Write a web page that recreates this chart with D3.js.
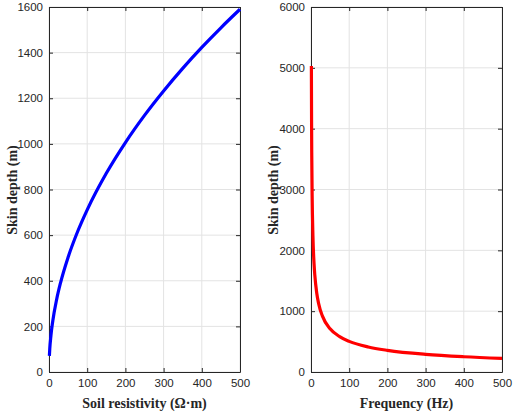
<!DOCTYPE html>
<html>
<head>
<meta charset="utf-8">
<script src="https://cdn.jsdelivr.net/npm/d3@7"></script>
<style>
body { margin: 0; background: #fff; }
.tick text { font-family: "Liberation Sans", Arial, sans-serif; font-size: 11.5px; fill: #262626; }
.lbl { font-family: "Liberation Serif", "Times New Roman", serif; font-size: 14px; font-weight: bold; fill: #262626; }
</style>
</head>
<body>
<script>
// soil resistivity vs skin depth (left panel)
var resistivity = [1, 2, 5, 10, 20, 30, 50, 75, 100, 150, 200, 250, 300, 350, 400, 450, 500];
var depthByRes = [71, 101, 159, 225, 318, 390, 503, 616, 711, 871, 1006, 1125, 1232, 1331, 1423, 1509, 1590];

// frequency vs skin depth (right panel)
var frequency = [1, 1.5, 2, 3, 5, 8, 10, 15, 20, 30, 50, 75, 100, 150, 200, 300, 400, 500];
var depthByFreq = [5030, 4107, 3557, 2904, 2249, 1778, 1591, 1299, 1125, 918, 711, 581, 503, 411, 356, 290, 251, 225];

var xTicks = [0, 100, 200, 300, 400, 500];
var leftYTicks = [0, 200, 400, 600, 800, 1000, 1200, 1400, 1600];
var rightYTicks = [0, 1000, 2000, 3000, 4000, 5000, 6000];

var width = 515, height = 414;

var svg = d3.select("body").append("svg")
    .attr("width", width)
    .attr("height", height);

function panel(opts) {
    var x = d3.scaleLinear().domain([0, 500]).range([opts.x0, opts.x1]);
    var y = d3.scaleLinear().domain([0, opts.ymax]).range([372, 7]);
    var g = svg.append("g");

    // grid
    g.selectAll(".gx").data(xTicks).enter().append("line")
        .attr("x1", d => x(d)).attr("x2", d => x(d))
        .attr("y1", y(0)).attr("y2", y(opts.ymax))
        .attr("stroke", "#e3e3e3").attr("stroke-width", 1);
    g.selectAll(".gy").data(opts.yTicks).enter().append("line")
        .attr("x1", x(0)).attr("x2", x(500))
        .attr("y1", d => y(d)).attr("y2", d => y(d))
        .attr("stroke", "#e3e3e3").attr("stroke-width", 1);

    // axes, ticks pointing inward
    var fmt = d3.format("d");
    var bottom = g.append("g").attr("transform", "translate(0," + y(0) + ")")
        .call(d3.axisBottom(x).tickValues(xTicks).tickFormat(fmt).tickSizeInner(-4).tickSizeOuter(0).tickPadding(7));
    var top = g.append("g").attr("transform", "translate(0," + y(opts.ymax) + ")")
        .call(d3.axisTop(x).tickValues(xTicks).tickSizeInner(-4).tickSizeOuter(0).tickFormat(""));
    var left = g.append("g").attr("transform", "translate(" + x(0) + ",0)")
        .call(d3.axisLeft(y).tickValues(opts.yTicks).tickFormat(fmt).tickSizeInner(-4).tickSizeOuter(0).tickPadding(6));
    var right = g.append("g").attr("transform", "translate(" + x(500) + ",0)")
        .call(d3.axisRight(y).tickValues(opts.yTicks).tickSizeInner(-4).tickSizeOuter(0).tickFormat(""));
    [bottom, top, left, right].forEach(a => {
        a.select(".domain").attr("stroke", "#262626");
        a.selectAll(".tick line").attr("stroke", "#262626");
    });

    // curve
    var line = d3.line().x(d => x(d[0])).y(d => y(d[1])).curve(d3.curveMonotoneX);
    g.append("path")
        .datum(d3.zip(opts.xs, opts.ys))
        .attr("d", line)
        .attr("fill", "none")
        .attr("stroke", opts.color)
        .attr("stroke-width", 3.2);

    // labels
    g.append("text").attr("class", "lbl")
        .attr("x", (opts.x0 + opts.x1) / 2).attr("y", 408)
        .attr("text-anchor", "middle")
        .text(opts.xLabel);
    g.append("text").attr("class", "lbl")
        .attr("transform", "translate(" + opts.ylx + ",190) rotate(-90)")
        .attr("text-anchor", "middle")
        .text("Skin depth (m)");
}

panel({ x0: 49, x1: 240, ymax: 1600, yTicks: leftYTicks, xs: resistivity, ys: depthByRes,
        color: "#0000ff", xLabel: "Soil resistivity (\u03a9\u00b7m)", ylx: 17 });
panel({ x0: 311, x1: 502, ymax: 6000, yTicks: rightYTicks, xs: frequency, ys: depthByFreq,
        color: "#ff0000", xLabel: "Frequency (Hz)", ylx: 278 });
</script>
</body>
</html>
